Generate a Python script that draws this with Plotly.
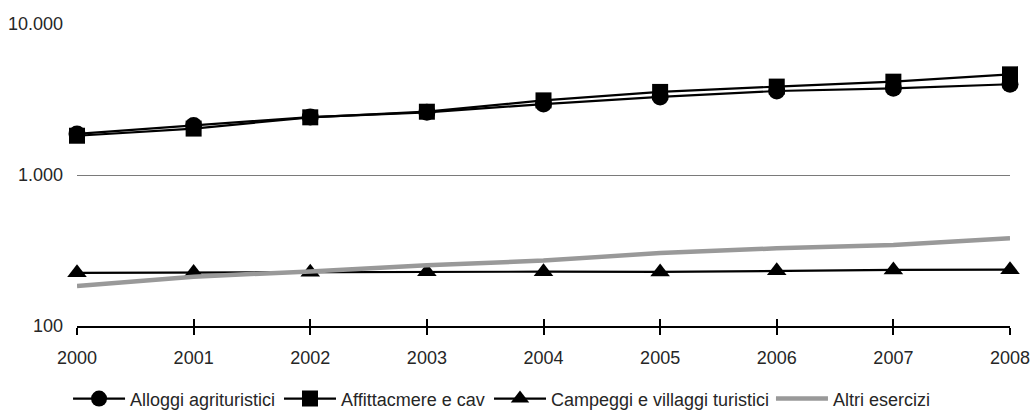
import plotly.graph_objects as go

years = [2000, 2001, 2002, 2003, 2004, 2005, 2006, 2007, 2008]
alloggi = [1870, 2130, 2420, 2600, 2950, 3290, 3600, 3750, 3990]
affittacamere = [1820, 2030, 2410, 2625, 3120, 3550, 3850, 4150, 4640]
campeggi = [225, 226, 227, 229, 229, 228, 232, 235, 236]
altri = [184, 212, 230, 253, 271, 304, 327, 344, 381]

names = ["Alloggi agrituristici", "Affittacmere e cav",
         "Campeggi e villaggi turistici", "Altri esercizi"]

FONT = "Liberation Sans, Arial, sans-serif"
FS = 18
TXT = "#262626"

fig = go.Figure()
fig.add_trace(go.Scatter(x=years, y=alloggi, name=names[0], mode="lines+markers",
                         line=dict(color="black", width=2.2),
                         marker=dict(symbol="circle", size=17, color="black"),
                         cliponaxis=False, legend="legend"))
fig.add_trace(go.Scatter(x=years, y=affittacamere, name=names[1], mode="lines+markers",
                         line=dict(color="black", width=2.2),
                         marker=dict(symbol="square", size=16, color="black"),
                         cliponaxis=False, legend="legend2"))
fig.add_trace(go.Scatter(x=years, y=campeggi, name=names[2], mode="lines+markers",
                         line=dict(color="black", width=2.2),
                         marker=dict(symbol="triangle-up", size=17, color="black"),
                         cliponaxis=False, legend="legend3"))
fig.add_trace(go.Scatter(x=years, y=altri, name=names[3], mode="lines",
                         line=dict(color="#999999", width=4.5),
                         cliponaxis=False, legend="legend4"))
# invisible trace to host the inside ticks on the overlay axis
fig.add_trace(go.Scatter(x=[years[0], years[-1]], y=[None, None], xaxis="x2",
                         showlegend=False, hoverinfo="skip", mode="lines"))


def leg(xpos):
    return dict(orientation="h", x=xpos, xanchor="left", y=-0.18, yanchor="top",
                font=dict(family=FONT, size=FS, color=TXT),
                itemwidth=52, bgcolor="rgba(0,0,0,0)", borderwidth=0)


fig.update_layout(
    width=1033, height=415,
    margin=dict(l=77, r=23, t=24, b=89, autoexpand=False),
    paper_bgcolor="white", plot_bgcolor="white",
    separators=",.",
    font=dict(family=FONT, size=FS, color=TXT),
    showlegend=True,
    legend=leg(-0.0096),
    legend2=leg(0.2165),
    legend3=leg(0.4416),
    legend4=leg(0.7438),
    xaxis=dict(range=[years[0], years[-1]], tickvals=years, ticktext=[str(y) for y in years],
               showgrid=False, zeroline=False, showline=True, linecolor="black", linewidth=2,
               ticks="outside", ticklen=7, tickwidth=2, tickcolor="black",
               ticklabelstandoff=7, automargin=False),
    xaxis2=dict(range=[years[0], years[-1]], tickvals=years, overlaying="x", anchor="y",
                side="bottom", showticklabels=False, showgrid=False, zeroline=False,
                showline=False, ticks="inside", ticklen=7, tickwidth=2, tickcolor="black",
                automargin=False),
    yaxis=dict(type="log", range=[2, 4], tickvals=[100, 1000, 10000],
               tickformat=",d", showgrid=True, gridcolor="#7a7a7a", gridwidth=1,
               zeroline=False, showline=False, ticks="", ticklabelstandoff=13,
               automargin=False),
)

# remove the default page margin so the 1033x415 figure fills the window exactly
fig.write_html(
    "out.html",
    config={"displayModeBar": False},
    post_script="document.documentElement.style.margin='0';"
                "document.body.style.margin='0';"
                "document.body.style.overflow='hidden';",
)
